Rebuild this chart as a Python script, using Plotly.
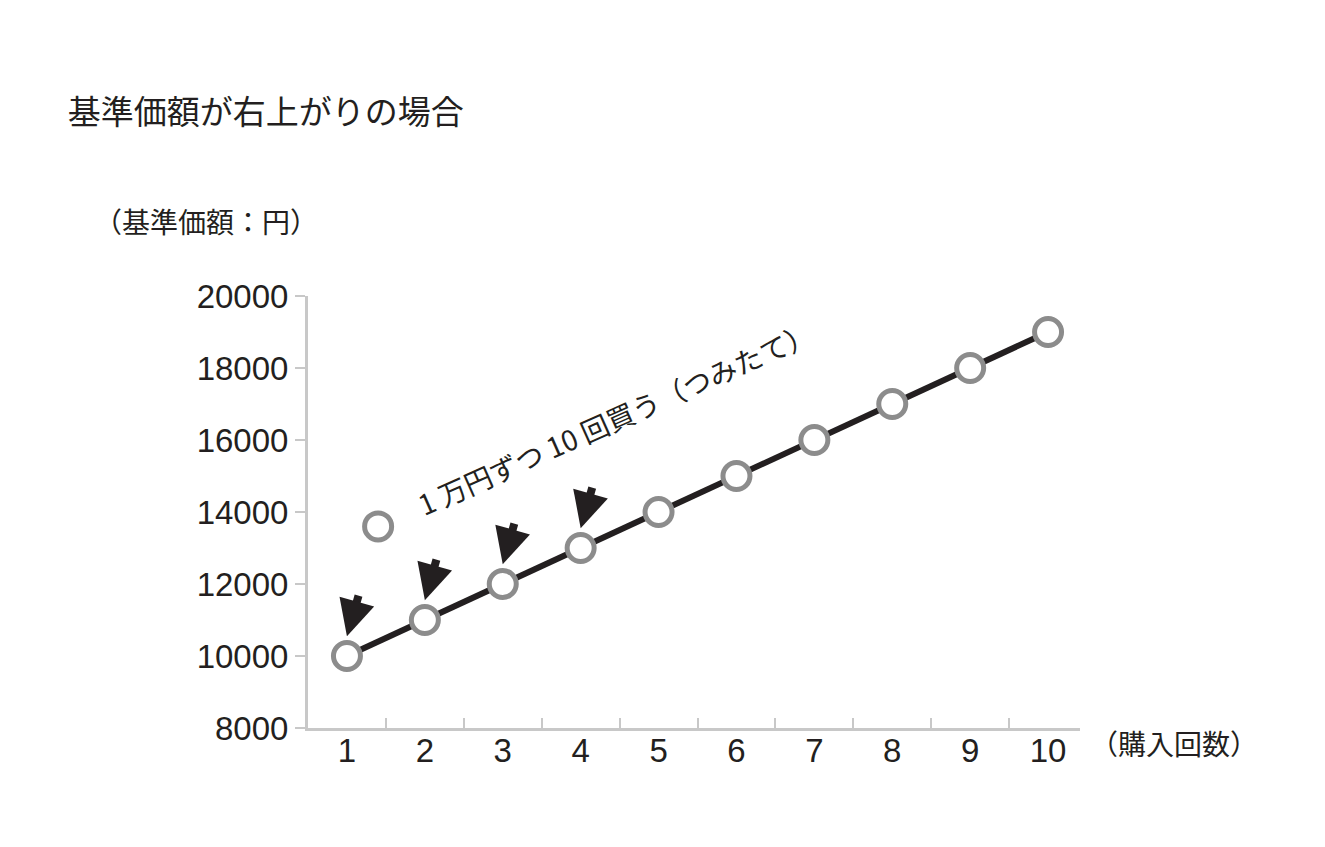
import plotly.graph_objects as go

# purchase number and NAV (yen)
purchases = [1, 2, 3, 4, 5, 6, 7, 8, 9, 10]
nav = [10000, 11000, 12000, 13000, 14000, 15000, 16000, 17000, 18000, 19000]
y_ticks = [8000, 10000, 12000, 14000, 16000, 18000, 20000]
arrow_targets = [1, 2, 3, 4]

font = "Noto Sans CJK JP"
fig = go.Figure()

fig.add_trace(go.Scatter(
    x=purchases, y=nav, mode="lines+markers",
    line=dict(color="#231f20", width=6),
    marker=dict(size=27, color="white", symbol="circle",
                line=dict(color="#8c8c8c", width=5)),
    showlegend=False, hoverinfo="skip"))

# legend circle
fig.add_trace(go.Scatter(
    x=[1.4], y=[13600], mode="markers",
    marker=dict(size=27, color="white", line=dict(color="#8c8c8c", width=5)),
    showlegend=False, hoverinfo="skip"))

# invisible trace on second axis for category labels
fig.add_trace(go.Scatter(x=purchases, y=nav, xaxis="x2", mode="markers",
                         marker=dict(opacity=0), showlegend=False, hoverinfo="skip"))

for p in arrow_targets:
    fig.add_annotation(x=p, y=nav[p - 1] + 550, ax=12, ay=-42, text="",
                       showarrow=True, arrowhead=2, arrowsize=0.9,
                       arrowwidth=8, arrowcolor="#231f20")

fig.add_annotation(x=4.45, y=16600, text="1 万円ずつ 10 回買う（つみたて）",
                   textangle=-24, showarrow=False,
                   font=dict(family=font, size=28, color="#231f20"))

fig.add_annotation(xref="paper", yref="paper", x=-0.28, y=1.225, xanchor="left",
                   text="（基準価額：円）", showarrow=False,
                   font=dict(family=font, size=28, color="#231f20"))
fig.add_annotation(xref="paper", yref="paper", x=1.01, y=-0.085, xanchor="left",
                   text="（購入回数）", showarrow=False,
                   font=dict(family=font, size=28, color="#231f20"))

fig.update_layout(
    width=1325, height=847,
    paper_bgcolor="white", plot_bgcolor="white",
    margin=dict(l=300, r=253, t=288, b=127),
    title=dict(text="基準価額が右上がりの場合", x=0.045, y=0.89, xanchor="left",
               font=dict(family=font, size=33, color="#231f20")),
    xaxis=dict(range=[0.5, 10.41], tickvals=[1.5, 2.5, 3.5, 4.5, 5.5, 6.5, 7.5, 8.5, 9.5],
               ticks="inside", ticklen=10, tickwidth=2, tickcolor="#c8c8c8",
               showticklabels=False, showgrid=False, zeroline=False,
               showline=True, linecolor="#c8c8c8", linewidth=3),
    xaxis2=dict(range=[0.5, 10.41], overlaying="x", side="bottom",
                tickvals=purchases, ticks="", showgrid=False, zeroline=False,
                tickfont=dict(family="Liberation Sans", size=33, color="#231f20")),
    yaxis=dict(range=[8000, 20000], tickvals=y_ticks, tickformat="d", ticks="outside",
               ticklen=10, tickwidth=2, tickcolor="#c8c8c8", showgrid=False,
               zeroline=False, showline=True, linecolor="#c8c8c8", linewidth=3,
               tickfont=dict(family="Liberation Sans", size=33, color="#231f20")),
)

fig.write_html("out.html")
